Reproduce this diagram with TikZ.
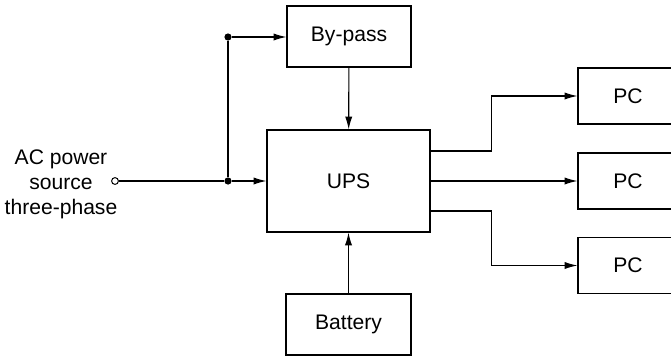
\documentclass[tikz,border=0pt]{standalone}
\usepackage{fontspec}
\setmainfont{Liberation Sans}
\usepackage{tikz}
\usetikzlibrary{arrows.meta}

\begin{document}
\begin{tikzpicture}[
    x=0.025cm, y=-0.025cm,
    block/.style={draw, line width=0.8pt, font=\fontsize{15}{17.8}\selectfont,
        inner sep=0pt},
    flow/.style={-{Latex[length=3.2mm, width=1.8mm]}, line width=0.8pt},
    wire/.style={line width=0.8pt},
    dot/.style={circle, fill, inner sep=0pt, minimum size=0.18cm},
    port/.style={circle, draw, fill=white, inner sep=0pt, minimum size=0.17cm, line width=0.7pt}
]
\clip (0,0) rectangle (671,356);
\node[block, minimum width=3.1cm, minimum height=1.525cm] (bypass) at (349,36.5) {By-pass};
\node[block, minimum width=4.075cm, minimum height=2.55cm] (ups) at (348.5,181) {UPS};
\node[block, minimum width=3.125cm, minimum height=1.525cm] (battery) at (348.5,324.5) {Battery};
\node[block, minimum width=3cm, minimum height=1.4cm] (pc1) at (638,96) {\hspace*{-0.5cm}PC};
\node[block, minimum width=3cm, minimum height=1.4cm] (pc2) at (638,181) {\hspace*{-0.5cm}PC};
\node[block, minimum width=3cm, minimum height=1.4cm] (pc3) at (638,265.5) {\hspace*{-0.5cm}PC};
\node[align=center, font=\fontsize{15}{17.8}\selectfont] (src) at (61,184)
    {AC power\\source\\three-phase};
\node[port] (in) at (115,181) {};
\node[dot] (j1) at (228,181) {};
\node[dot] (j2) at (228,37) {};
\draw[wire] (in) -- (j1);
\draw[wire] (j1) -- (j2);
\draw[flow] (j1) -- (ups);
\draw[flow] (j2) -- (j2 -| bypass.west);
\draw[flow] (bypass) -- (ups);
\draw[flow] (battery) -- (ups);
\draw[flow] ([yshift=0.75cm]ups.east) -- ++(61,0) |- (pc1);
\draw[flow] (ups) -- (pc2);
\draw[flow] ([yshift=-0.75cm]ups.east) -- ++(61,0) |- (pc3);
\end{tikzpicture}
\end{document}
